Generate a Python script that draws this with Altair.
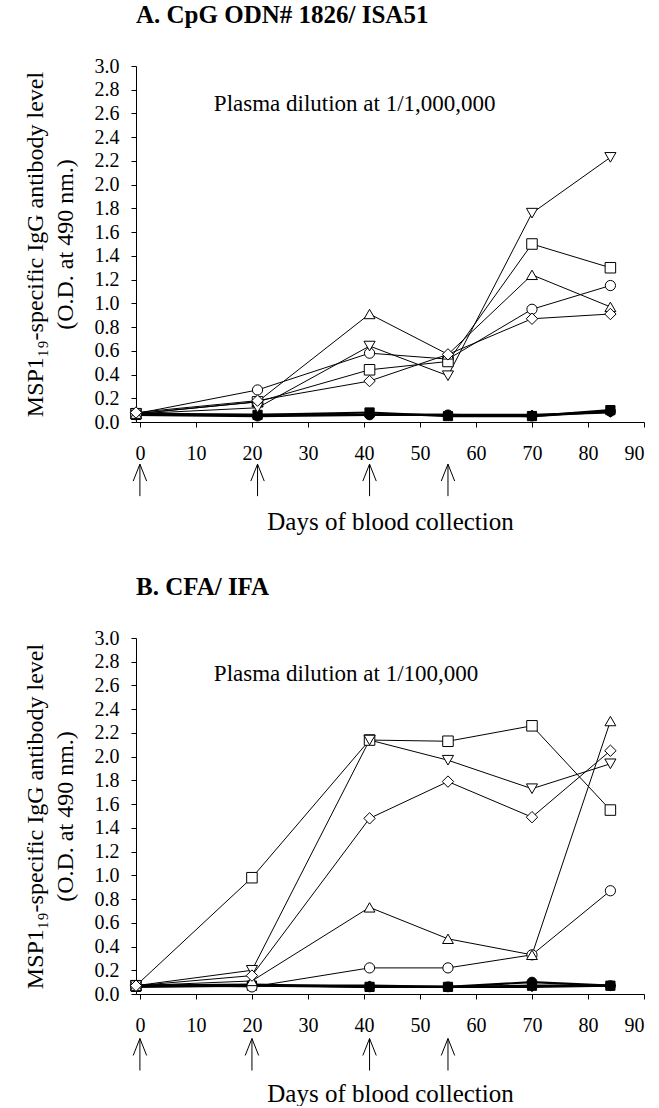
import altair as alt
import pandas as pd

# ---------------- data ----------------
days_a = [-0.7, 21, 41, 55, 70, 84]
days_b = [-0.7, 20, 41, 55, 70, 84]

series_names = ["filled_square", "filled_diamond", "filled_circle",
                "open_circle", "open_square", "open_triangle_up",
                "open_triangle_down", "open_diamond"]
filled_names = ["filled_square", "filled_diamond", "filled_circle"]

# Panel A: CpG ODN# 1826 / ISA51 (plasma 1/1,000,000)
a_filled_square = [0.06, 0.06, 0.08, 0.05, 0.05, 0.10]
a_filled_diamond = [0.07, 0.06, 0.06, 0.06, 0.06, 0.08]
a_filled_circle = [0.06, 0.05, 0.06, 0.06, 0.05, 0.09]
a_open_circle = [0.07, 0.27, 0.58, 0.53, 0.95, 1.15]
a_open_square = [0.07, 0.17, 0.44, 0.51, 1.50, 1.30]
a_open_triangle_up = [0.07, 0.17, 0.91, 0.57, 1.24, 0.97]
a_open_triangle_down = [0.07, 0.12, 0.64, 0.39, 1.76, 2.23]
a_open_diamond = [0.08, 0.18, 0.345, 0.57, 0.87, 0.91]

# Panel B: CFA / IFA (plasma 1/100,000)
b_filled_square = [0.06, 0.07, 0.06, 0.06, 0.07, 0.07]
b_filled_diamond = [0.07, 0.07, 0.07, 0.06, 0.06, 0.07]
b_filled_circle = [0.07, 0.08, 0.06, 0.06, 0.10, 0.07]
b_open_circle = [0.07, 0.06, 0.22, 0.22, 0.33, 0.87]
b_open_square = [0.07, 0.98, 2.14, 2.13, 2.26, 1.55]
b_open_triangle_up = [0.07, 0.11, 0.73, 0.465, 0.33, 2.30]
b_open_triangle_down = [0.07, 0.20, 2.14, 1.97, 1.73, 1.94]
b_open_diamond = [0.07, 0.155, 1.48, 1.79, 1.49, 2.05]

arrow_days_a = [0, 21, 41, 55]
arrow_days_b = [0, 20, 41, 55]
arrow_level_a = -0.49
arrow_level_b = -0.51

x_ticks = [0, 10, 20, 30, 40, 50, 60, 70, 80, 90]
y_ticks = [0.0, 0.2, 0.4, 0.6, 0.8, 1.0, 1.2, 1.4, 1.6, 1.8, 2.0, 2.2, 2.4, 2.6, 2.8, 3.0]

title_a = "A. CpG ODN# 1826/ ISA51"
title_b = "B. CFA/ IFA"
note_a = "Plasma dilution at 1/1,000,000"
note_b = "Plasma dilution at 1/100,000"
note_pos_a = (13.2, 2.68)
note_pos_b = (13.2, 2.70)
y_title = ["MSP1\u2081\u2089-specific IgG antibody level", "(O.D. at 490 nm.)"]
x_title = "Days of blood collection"

# ---------------- styling ----------------
FONT = "Liberation Serif"
shape_range = ["square", "diamond", "circle", "circle", "square",
               "triangle-up", "triangle-down", "diamond"]
fill_range = ["black", "black", "black", "white", "white", "white", "white", "white"]
size_range = [85, 130, 160, 144, 121, 169, 169, 196]
ARROW = "M0,1L0,-1M-0.42,0.06L0,-1L0.42,0.06"

PW, PH = 508, 356


def long_df(days, values):
    rows = []
    for name, vals in zip(series_names, values):
        for d, v in zip(days, vals):
            rows.append({"day": d, "od": v, "series": name})
    return pd.DataFrame(rows)


def panel(days, values, arrow_days, arrow_level, note, note_pos, title):
    df = long_df(days, values)
    df_open = df[~df["series"].isin(filled_names)]
    df_fill = df[df["series"].isin(filled_names)]
    xs = alt.Scale(domain=[-0.7, 90], nice=False, zero=False)
    ys = alt.Scale(domain=[0, 3], nice=False)
    x = alt.X("day:Q", scale=xs,
              axis=alt.Axis(values=x_ticks, title=x_title, tickSize=5,
                            labelPadding=16, titlePadding=46, grid=False,
                            titleFontSize=25, labelFontSize=20, labelOverlap=False))
    y = alt.Y("od:Q", scale=ys,
              axis=alt.Axis(values=y_ticks, format=".1f", title=y_title,
                            tickSize=5, labelPadding=12, titlePadding=17,
                            grid=False, titleFontSize=24, titleLineHeight=30,
                            labelFontSize=20, labelOverlap=False, labelBound=False))
    sdom = series_names
    lines_fill = alt.Chart(df_fill).mark_line(color="black", strokeWidth=2.2).encode(
        x=x, y=y, detail="series:N", order="day:Q")
    lines_open = alt.Chart(df_open).mark_line(color="black", strokeWidth=1).encode(
        x=x, y=y, detail="series:N", order="day:Q")
    points = alt.Chart(df).mark_point(filled=True, stroke="black", strokeWidth=1, opacity=1).encode(
        x=x, y=y,
        shape=alt.Shape("series:N", scale=alt.Scale(domain=sdom, range=shape_range), legend=None),
        fill=alt.Fill("series:N", scale=alt.Scale(domain=sdom, range=fill_range), legend=None),
        size=alt.Size("series:N", scale=alt.Scale(domain=sdom, range=size_range), legend=None),
    )
    note_df = pd.DataFrame({"day": [note_pos[0]], "od": [note_pos[1]], "t": [note]})
    text = alt.Chart(note_df).mark_text(align="left", baseline="middle", font=FONT,
                                        fontSize=23, color="black").encode(
        x=x, y=y, text="t:N")
    arr_df = pd.DataFrame({"day": arrow_days, "od": [arrow_level] * len(arrow_days)})
    arrows = alt.Chart(arr_df).mark_point(shape=ARROW, size=1024, filled=False,
                                          stroke="black", strokeWidth=1, opacity=1).encode(
        x=x, y=y)
    return alt.layer(lines_fill, lines_open, points, text, arrows).properties(
        width=PW, height=PH,
        title=alt.TitleParams(text=title, anchor="start", frame="group", font=FONT,
                              fontSize=25, fontWeight="bold", color="black", offset=28),
    )


vals_a = [a_filled_square, a_filled_diamond, a_filled_circle, a_open_circle,
          a_open_square, a_open_triangle_up, a_open_triangle_down, a_open_diamond]
vals_b = [b_filled_square, b_filled_diamond, b_filled_circle, b_open_circle,
          b_open_square, b_open_triangle_up, b_open_triangle_down, b_open_diamond]

pa = panel(days_a, vals_a, arrow_days_a, arrow_level_a, note_a, note_pos_a, title_a)
pb = panel(days_b, vals_b, arrow_days_b, arrow_level_b, note_b, note_pos_b, title_b)

chart = alt.vconcat(pa, pb, spacing=41).properties(
    padding={"left": 23, "top": 3, "right": 0, "bottom": 0},
    background="white",
).configure_axis(
    labelFont=FONT, titleFont=FONT, labelColor="black", titleColor="black",
    domainColor="black", tickColor="black", titleFontWeight="normal",
    labelOverlap=False,
).configure_view(stroke=None)

chart.save("out.html", embed_options={"renderer": "svg", "actions": False})
